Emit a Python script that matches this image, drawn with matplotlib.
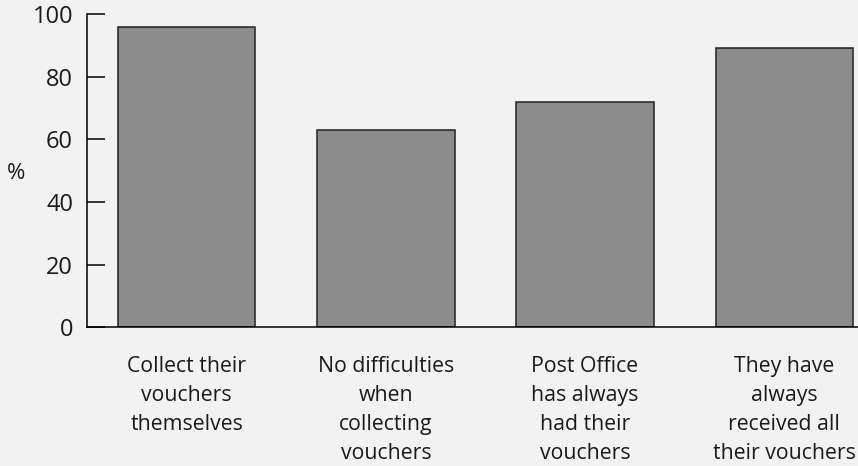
import matplotlib
matplotlib.use("Agg")
import matplotlib.pyplot as plt

categories = [
    "Collect their\nvouchers\nthemselves",
    "No difficulties\nwhen\ncollecting\nvouchers",
    "Post Office\nhas always\nhad their\nvouchers",
    "They have\nalways\nreceived all\ntheir vouchers",
]
values = [96, 63, 72, 89]
yticks = [0, 20, 40, 60, 80, 100]

bg = "#f2f2f2"
plt.rcParams["font.family"] = ["Open Sans", "DejaVu Sans"]

fig = plt.figure(figsize=(8.58, 4.66), dpi=100, facecolor=bg)
ax = fig.add_axes([0.1014, 0.298, 0.8986, 0.672])  # left, bottom, width, height
ax.set_facecolor(bg)

x = range(len(values))
ax.bar(x, values, width=0.69, color="#8c8c8c", edgecolor="#222222", linewidth=1.1)

ax.set_xlim(-0.5, 3.37)
ax.set_ylim(0, 100)
ax.set_yticks(yticks)
ax.set_xticks(list(x))
ax.set_xticklabels(categories, fontsize=15.3, color="#1a1a1a", linespacing=1.5,
                   va="top")
ax.tick_params(axis="x", length=0, pad=21)
ax.tick_params(axis="y", direction="in", length=13, width=1.1, pad=10,
               labelsize=17, labelcolor="#1a1a1a")

for side in ["top", "right"]:
    ax.spines[side].set_visible(False)
ax.spines["left"].set_bounds(0, 100)
ax.spines["left"].set_linewidth(1.1)
ax.spines["bottom"].set_linewidth(1.1)

fig.text(0.008, 0.628, "%", fontsize=16, color="#1a1a1a", ha="left", va="center")

plt.savefig("out.png", dpi=100, facecolor=bg)
plt.close(fig)
